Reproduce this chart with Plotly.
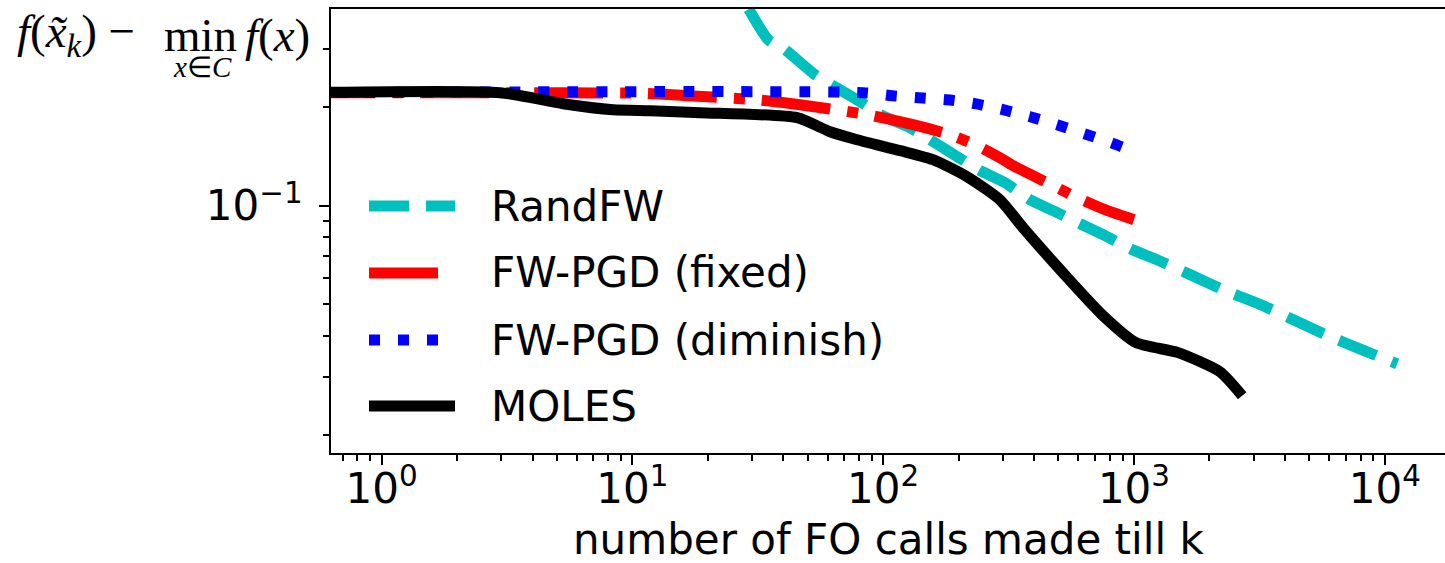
import plotly.graph_objects as go

# ---------------- data ----------------
series_names = ["RandFW", "FW-PGD (fixed)", "FW-PGD (diminish)", "MOLES"]
series_colors = ["#00BFBF", "#FF0000", "#0000FF", "#000000"]
series_dash = ["40px,17px", "69px,17px,11px,17px", "11px,18px", "solid"]

randfw_x = [22.4, 29.5, 34.8, 40.6, 53.5, 67.3, 80.9, 97.2, 125.7, 153.8, 197.1, 243.5, 306.3,
            385.3, 475.9, 609.8, 767, 965, 1236, 1674, 2266, 3212, 4388, 5940, 8270, 11200]
randfw_y = [0.5636, 0.3911, 0.3211, 0.2993, 0.2511, 0.2259, 0.2077, 0.1896, 0.1742, 0.1590, 0.1411,
            0.1279, 0.1175, 0.1043, 0.0966, 0.0881, 0.0810, 0.0739, 0.0684, 0.0616, 0.0554, 0.0498,
            0.0446, 0.0401, 0.0361, 0.0329]

fixed_x = [0.5, 5.15, 11.0, 16.7, 31.4, 46.6, 86.3, 131.6, 184.8, 236.8, 292, 329.6, 442, 593, 767, 1000]
fixed_y = [0.2213, 0.2210, 0.2205, 0.2166, 0.2106, 0.2034, 0.1896, 0.1767, 0.1647, 0.1525, 0.1401,
           0.1325, 0.1184, 0.1058, 0.0972, 0.0906]

dimin_x = [0.5, 83.2, 108.5, 139, 179.8, 232.5, 300.7, 385.2, 493.6, 632.4, 810.4, 1000]
dimin_y = [0.2213, 0.2213, 0.2166, 0.2136, 0.2106, 0.2048, 0.1963, 0.1869, 0.1767, 0.1659, 0.1557, 0.1462]

moles_x = [0.5, 2.97, 5.29, 8.38, 11.8, 18.6, 45.4, 61.4, 78.7, 117, 158, 216, 292, 361, 521, 746,
           1019, 1500, 2204, 2700]
moles_y = [0.2213, 0.2213, 0.2048, 0.1963, 0.1950, 0.1923, 0.1856, 0.1682, 0.1590, 0.1472, 0.1382,
           0.1226, 0.1043, 0.0857, 0.0624, 0.0465, 0.0382, 0.0356, 0.0311, 0.0263]

x_major = [1, 10, 100, 1000, 10000]
x_major_text = ["10<sup>0</sup>", "10<sup>1</sup>", "10<sup>2</sup>", "10<sup>3</sup>", "10<sup>4</sup>"]
y_major = [0.1]
y_major_text = ["10<sup>\u22121</sup>"]
x_minor = [m * 10 ** e for e in range(-1, 5) for m in range(2, 10)]
y_minor = [0.02, 0.03, 0.04, 0.05, 0.06, 0.07, 0.08, 0.09, 0.2, 0.3]

xlabel = "number of FO calls made till k"

# ---------------- figure ----------------
W, H = 1445, 563
L, R, T, B = 331, 0, 9, 110
PW, PH = W - L - R, H - T - B


def px(x):
    return (x - L) / PW


def py(y):
    return (H - B - y) / PH


fig = go.Figure()
xs = [randfw_x, fixed_x, dimin_x, moles_x]
ys = [randfw_y, fixed_y, dimin_y, moles_y]
for name, c, d, x, y in zip(series_names, series_colors, series_dash, xs, ys):
    fig.add_trace(go.Scatter(x=x, y=y, mode="lines", name=name,
                             line=dict(color=c, width=11, dash=d, shape="spline", smoothing=0.6),
                             showlegend=False, hoverinfo="skip"))

axis_common = dict(type="log", showline=True, linecolor="black", linewidth=2,
                   ticks="outside", ticklen=10, tickwidth=2, tickcolor="black",
                   showgrid=False, zeroline=False,
                   tickfont=dict(family="DejaVu Sans", size=42, color="black"))

fig.update_xaxes(**axis_common, range=[-0.2014, 4.240], mirror=True,
                 tickmode="array", tickvals=x_major, ticktext=x_major_text, ticklabelstandoff=-12,
                 minor=dict(tickmode="array", tickvals=x_minor, ticks="outside",
                            ticklen=6, tickwidth=1.5, tickcolor="black", showgrid=False))
fig.update_yaxes(**axis_common, range=[-1.7549, -0.3996],
                 tickmode="array", tickvals=y_major, ticktext=y_major_text, ticklabelstandoff=8,
                 minor=dict(tickmode="array", tickvals=y_minor, ticks="outside",
                            ticklen=6, tickwidth=1.5, tickcolor="black", showgrid=False))

annotations = []
shapes = []
# x label
annotations.append(dict(text=xlabel, xref="paper", yref="paper", x=0.5, y=py(539),
                        xanchor="center", yanchor="middle", showarrow=False, borderpad=0,
                        font=dict(family="DejaVu Sans", size=42, color="black")))
# y label (math-like)
serif = dict(family="Liberation Serif", size=47, color="black")
annotations.append(dict(text="<i>f</i>(<i>x\u0303</i><sub><i>k</i></sub>) \u2212", xref="paper", yref="paper",
                        x=px(16), y=py(35), xanchor="left", yanchor="middle", showarrow=False,
                        borderpad=0, font=serif))
annotations.append(dict(text="min", xref="paper", yref="paper",
                        x=px(200), y=py(35), xanchor="center", yanchor="middle", showarrow=False,
                        borderpad=0, font=serif))
annotations.append(dict(text="<i>f</i>(<i>x</i>)", xref="paper", yref="paper",
                        x=px(244), y=py(35), xanchor="left", yanchor="middle", showarrow=False,
                        borderpad=0, font=serif))
annotations.append(dict(text="<i>x</i>\u2208<i>C</i>", xref="paper", yref="paper",
                        x=px(202), y=py(67), xanchor="center", yanchor="middle", showarrow=False,
                        borderpad=0, font=dict(family="Liberation Serif", size=29, color="black")))

# legend (manual, to match long line samples)
row_y = [206, 273, 340, 406]
for name, c, d, ry in zip(series_names, series_colors, series_dash, row_y):
    shapes.append(dict(type="line", xref="paper", yref="paper", x0=px(369), x1=px(455),
                       y0=py(ry), y1=py(ry), line=dict(color=c, width=11, dash=d)))
    annotations.append(dict(text=name, xref="paper", yref="paper", x=px(489), y=py(ry),
                            xanchor="left", yanchor="middle", showarrow=False,
                            font=dict(family="DejaVu Sans", size=42, color="black")))

fig.update_layout(width=W, height=H, margin=dict(l=L, r=R, t=T, b=B, autoexpand=False),
                  plot_bgcolor="white", paper_bgcolor="white", showlegend=False,
                  annotations=annotations, shapes=shapes,
                  font=dict(family="DejaVu Sans", size=42, color="black"))

fig.write_html("out.html", config={"displayModeBar": False},
               post_script="document.body.style.margin='0px';")
